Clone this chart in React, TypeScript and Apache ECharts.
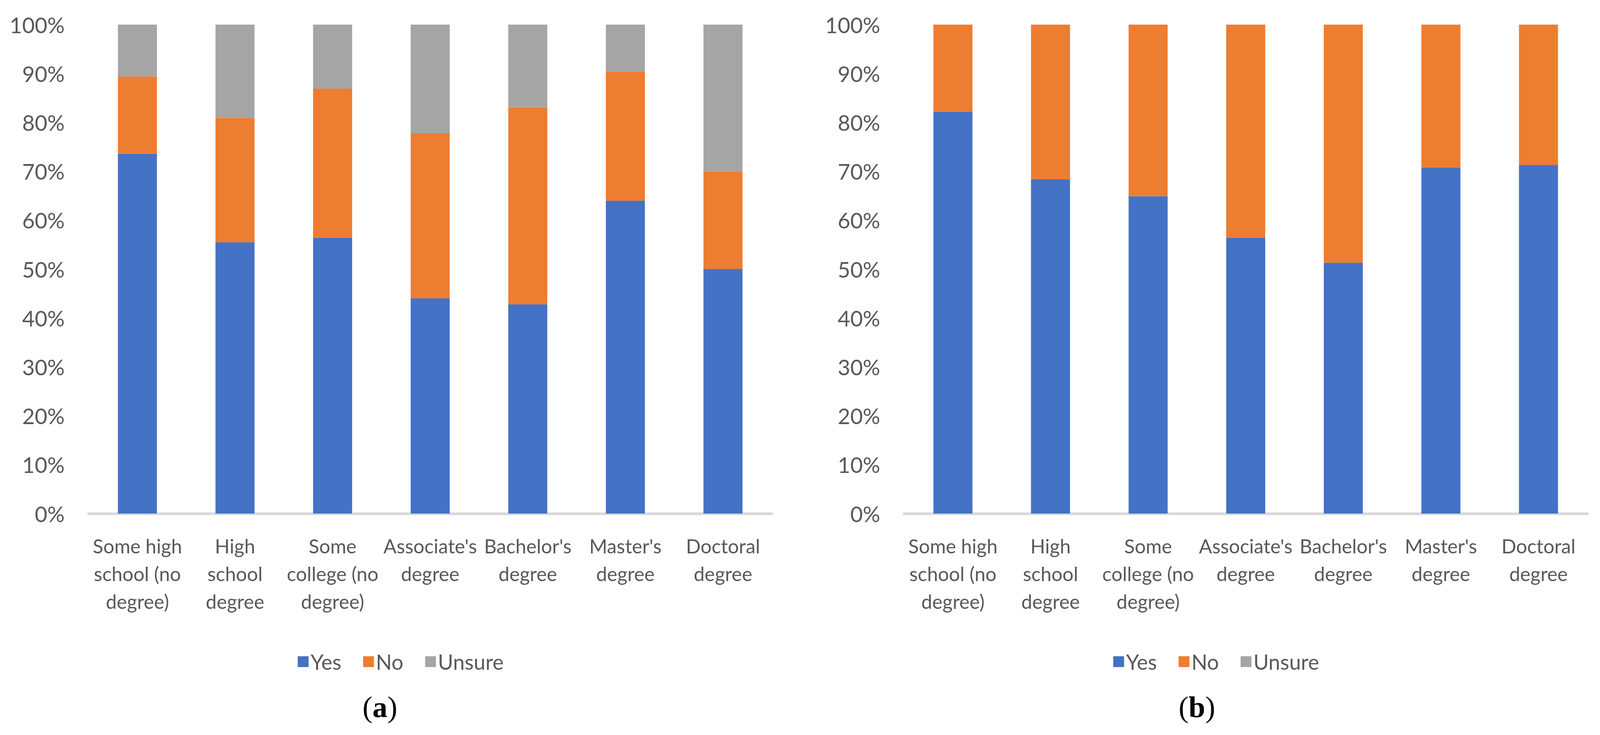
import React, { useEffect, useRef } from "react";
import * as echarts from "echarts";

const categories = [
  "Some high\nschool (no\ndegree)",
  "High\nschool\ndegree",
  "Some\ncollege (no\ndegree)",
  "Associate's\ndegree",
  "Bachelor's\ndegree",
  "Master's\ndegree",
  "Doctoral\ndegree",
];
const seriesNames = ["Yes", "No", "Unsure"];

// Panel (a): stacked segment shares (%)
const yesA = [73.6, 55.5, 56.4, 44.0, 42.8, 64.0, 50.0];
const noA = [15.8, 25.4, 30.5, 33.8, 40.3, 26.4, 20.0];
const unsureA = [10.6, 19.1, 13.1, 22.2, 16.9, 9.6, 30.0];

// Panel (b)
const yesB = [82.2, 68.4, 64.9, 56.4, 51.3, 70.8, 71.3];
const noB = [17.8, 31.6, 35.1, 43.6, 48.7, 29.2, 28.7];
const unsureB = [0, 0, 0, 0, 0, 0, 0];

const captions = ["a", "b"];

const COLORS = ["#4472C4", "#ED7D31", "#A5A5A5"];
const TEXT = "#595959";
const FONT = "Lato";
const REF_W = 4279;
const REF_H = 1882;
const SHIFT = 2181;

export default function App() {
  const ref = useRef<HTMLDivElement>(null);
  useEffect(() => {
    if (!ref.current) return;
    const chart = echarts.init(ref.current, null, { renderer: "svg" });
    const W = chart.getWidth() || REF_W;
    const H = chart.getHeight() || REF_H;
    const sx = W / REF_W;
    const sy = H / REF_H;
    const fs = Math.min(sx, sy);
    const X = (v: number) => v * sx;
    const Y = (v: number) => v * sy;

    const panels = [
      [yesA, noA, unsureA],
      [yesB, noB, unsureB],
    ];
    const series: any[] = [];
    panels.forEach((p, pi) => {
      p.forEach((data, si) => {
        series.push({
          type: "bar",
          name: seriesNames[si],
          xAxisIndex: pi,
          yAxisIndex: pi,
          stack: "s" + pi,
          barWidth: "40%",
          data,
          itemStyle: { color: COLORS[si] },
        });
      });
    });
    const option: any = {
      animation: false,
      backgroundColor: "#ffffff",
      color: COLORS,
      textStyle: { fontFamily: FONT },
      grid: [0, 1].map((i) => ({
        left: X(237 + i * SHIFT),
        top: Y(63),
        width: X(1827),
        height: Y(1252),
        containLabel: false,
      })),
      xAxis: [0, 1].map((i) => ({
        type: "category",
        gridIndex: i,
        data: categories,
        offset: Y(3.5),
        axisLine: { show: true, lineStyle: { color: "#D9D9D9", width: Y(7) } },
        axisTick: { show: false },
        splitLine: { show: false },
        axisLabel: {
          interval: 0,
          margin: Y(44),
          fontSize: 52 * fs,
          lineHeight: Y(71),
          color: TEXT,
          fontFamily: FONT,
          align: "center",
        },
      })),
      yAxis: [0, 1].map((i) => ({
        type: "value",
        gridIndex: i,
        min: 0,
        max: 100,
        interval: 10,
        axisLine: { show: false },
        axisTick: { show: false },
        splitLine: { show: false },
        axisLabel: {
          formatter: "{value}%",
          fontSize: 58 * fs,
          color: TEXT,
          fontFamily: FONT,
          margin: X(64),
        },
      })),
      legend: [0, 1].map((i) => ({
        data: seriesNames,
        left: X(791 + i * SHIFT),
        top: Y(1689) - (56 * fs) / 2,
        orient: "horizontal",
        icon: "rect",
        itemWidth: 29 * fs,
        itemHeight: 29 * fs,
        itemGap: X(58),
        selectedMode: false,
        textStyle: { fontSize: 56 * fs, color: TEXT, fontFamily: FONT, lineHeight: 56 * fs },
      })),
      graphic: captions.map((c, i) => ({
        type: "text",
        x: X(1016 + i * 2185),
        y: Y(1810),
        style: {
          text: "{p|(}{b|" + c + "}{p|)}",
          align: "center",
          verticalAlign: "middle",
          textAlign: "center",
          textVerticalAlign: "middle",
          rich: {
            p: { fontFamily: "Liberation Serif", fontSize: 80 * fs, fill: "#000", color: "#000" },
            b: {
              fontFamily: "Liberation Serif",
              fontSize: 80 * fs,
              fontWeight: "bold",
              fill: "#000",
              color: "#000",
            },
          },
        },
      })),
      series,
    };
    chart.setOption(option);
    return () => chart.dispose();
  }, []);
  return (
    <div
      ref={ref}
      style={{
        position: "fixed",
        left: 0,
        top: 0,
        width: "100vw",
        height: "100vh",
        background: "#fff",
      }}
    />
  );
}
